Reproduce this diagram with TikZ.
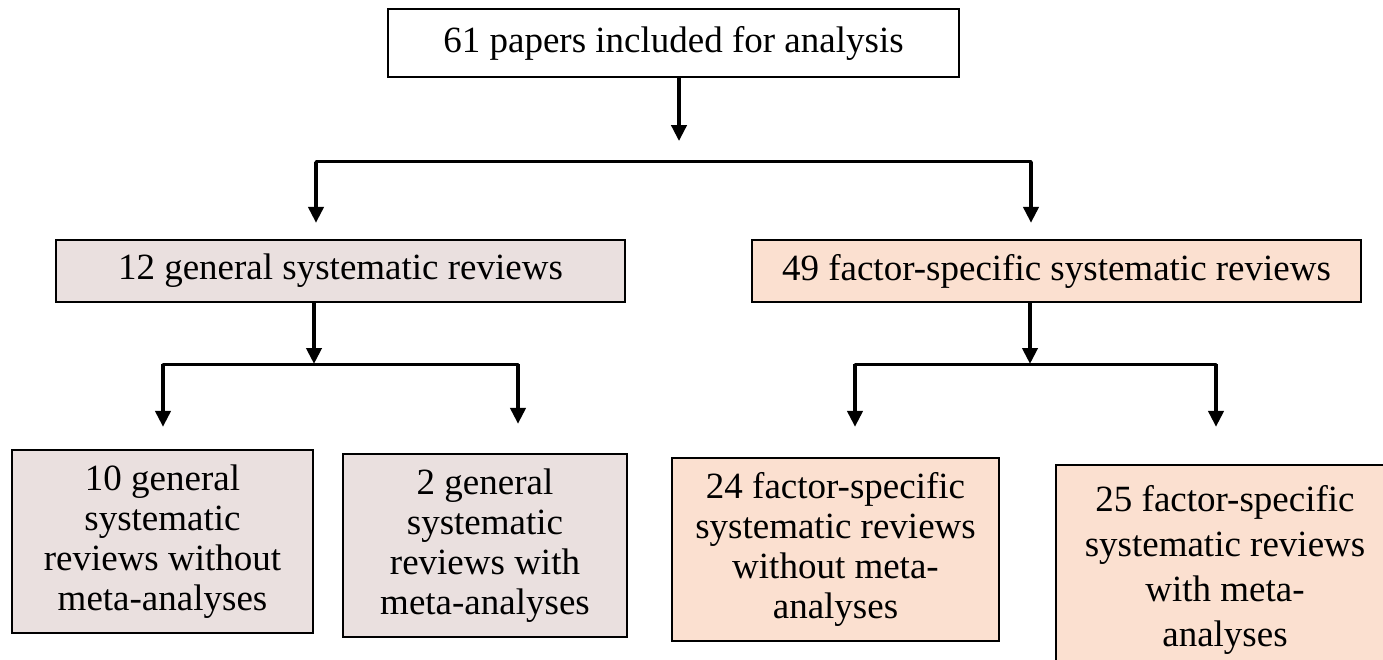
\documentclass[tikz,border=0pt]{standalone}
\usepackage{fontspec}
\setmainfont{Liberation Serif}
\usetikzlibrary{arrows.meta}
\definecolor{grayfill}{RGB}{234,224,223}
\definecolor{peachfill}{RGB}{251,224,208}
\begin{document}
\begin{tikzpicture}[x=1pt,y=-1pt,
  box/.style={draw=black, line width=2.2pt, inner sep=0pt, align=center,
    font=\fontsize{37}{40}\selectfont},
  gbox/.style={box, fill=grayfill},
  pbox/.style={box, fill=peachfill},
  arr/.style={line width=4pt, -{Triangle[width=15pt,length=16pt]}},
  link/.style={line width=3pt, line cap=round}]
\useasboundingbox (0,0) rectangle (1383,660);
\clip (0,0) rectangle (1383,660);
\fill[white] (0,0) rectangle (1383,660);
% nodes
\node[box, minimum width=571pt, minimum height=68pt] (top) at (673.5,43)
  {61 papers included for analysis};
\node[gbox, minimum width=569pt, minimum height=62pt] (ml) at (340.5,271)
  {12 general systematic reviews};
\node[pbox, minimum width=609pt, minimum height=62pt] (mr) at (1056.5,271)
  {49 factor-specific systematic reviews};
\node[gbox, minimum width=301pt, minimum height=183pt] (b1) at (162.5,541.5)
  {10 general\\systematic\\reviews without\\meta-analyses};
\node[gbox, minimum width=284pt, minimum height=183pt] (b2) at (485,545.5)
  {2 general\\systematic\\reviews with\\meta-analyses};
\node[pbox, minimum width=327pt, minimum height=183pt] (b3) at (835.5,549.5)
  {24 factor-specific\\systematic reviews\\without meta-\\analyses};
\node[pbox, minimum width=338pt, minimum height=209pt,
  font=\fontsize{37}{45}\selectfont] (b4) at (1225,569.5)
  {25 factor-specific\\systematic reviews\\with meta-\\analyses};
% junction coordinates
\coordinate (j1L) at (316,162);
\coordinate (j1R) at (1031,162);
\coordinate (j2) at (314,364);
\coordinate (j2L) at (163,364);
\coordinate (j2R) at (518,364);
\coordinate (j3) at (1030,364);
\coordinate (j3L) at (855,364);
\coordinate (j3R) at (1216,364);
% level 1
\draw[arr] ([xshift=5.5pt]top.south) -- ++(0,63);
\draw[link] (j1L) -- (j1R);
\draw[arr, shorten >=16pt] (j1L) -- (j1L |- ml.north);
\draw[arr, shorten >=16pt] (j1R) -- (j1R |- mr.north);
% level 2 left
\draw[arr] ([xshift=-26.5pt]ml.south) -- (j2);
\draw[link] (j2L) -- (j2R);
\draw[arr, shorten >=22pt] (j2L) -- (j2L |- b1.north);
\draw[arr, shorten >=29pt] (j2R) -- (j2R |- b2.north);
% level 2 right
\draw[arr] ([xshift=-26.5pt]mr.south) -- (j3);
\draw[link] (j3L) -- (j3R);
\draw[arr, shorten >=30pt] (j3L) -- (j3L |- b3.north);
\draw[arr, shorten >=37pt] (j3R) -- (j3R |- b4.north);
\end{tikzpicture}
\end{document}
